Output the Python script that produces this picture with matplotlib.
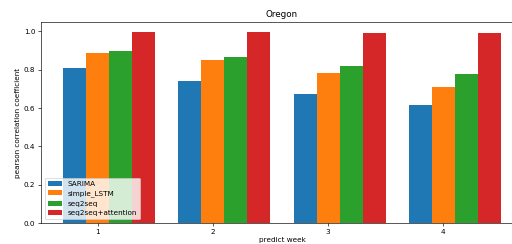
import numpy as np
import matplotlib
matplotlib.use('Agg')
import matplotlib.pyplot as plt

# datos
weeks = [1, 2, 3, 4]
sarima = [0.81, 0.742, 0.675, 0.615]
simple_lstm = [0.888, 0.851, 0.783, 0.709]
seq2seq = [0.896, 0.865, 0.818, 0.778]
seq2seq_att = [0.999, 0.996, 0.990, 0.989]

plt.rcParams['font.size'] = 9

dpi = 58
fig = plt.figure(figsize=(512 / dpi, 244 / dpi), dpi=dpi)
ax = fig.add_axes([41 / 512, 1 - 223 / 244, 482 / 512, 201 / 244])

x = np.arange(len(weeks)) + 0.8
w = 0.2
ax.bar(x, sarima, w, label='SARIMA')
ax.bar(x + w, simple_lstm, w, label='simple_LSTM')
ax.bar(x + 2 * w, seq2seq, w, label='seq2seq')
ax.bar(x + 3 * w, seq2seq_att, w, label='seq2seq+attention')

ax.set_xticks(x + w)
ax.set_xticklabels([str(s) for s in weeks])
ax.set_title('Oregon')
ax.set_xlabel('predict week', labelpad=3)
ax.set_ylabel('pearson correlation coefficient')
ax.spines['right'].set_visible(False)
ax.legend(loc='lower left')

fig.savefig('out.png', dpi=dpi)
